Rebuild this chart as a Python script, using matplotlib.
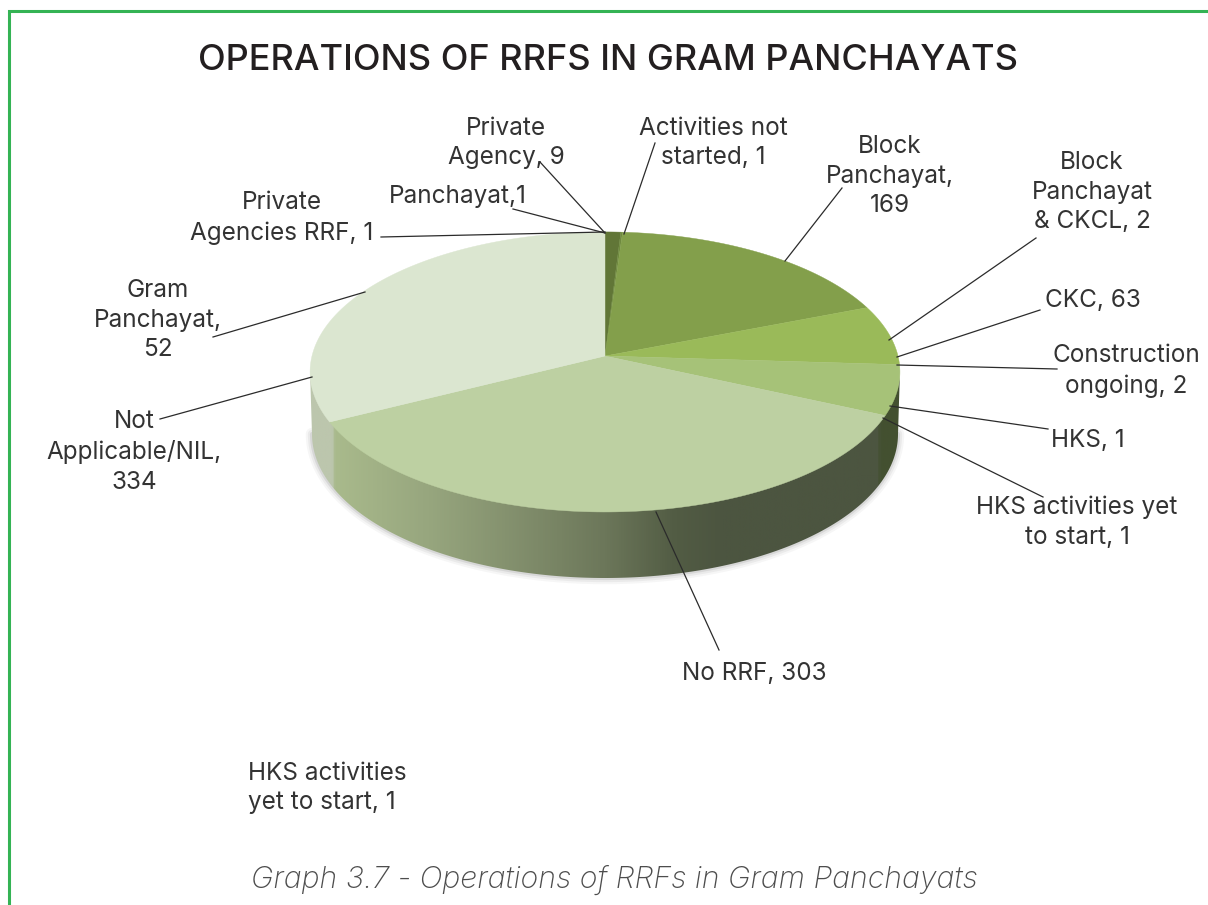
import numpy as np
import matplotlib
matplotlib.use("Agg")
import matplotlib.pyplot as plt
from matplotlib.colors import LinearSegmentedColormap
from matplotlib.patches import Polygon

plt.rcParams["font.family"] = ["Inter", "DejaVu Sans"]

TITLE = "OPERATIONS OF RRFS IN GRAM PANCHAYATS"
CAPTION = "Graph 3.7 - Operations of RRFs in Gram Panchayats"

# visible wedges clockwise from 12 o'clock (1-2 count slices fall in with a neighbour)
slice_values = [9, 1, 169, 65, 54, 336, 305]
slice_colors = ["#617637", "#6f8a3f", "#839f4b", "#9aba59", "#a6c278", "#bdd0a2", "#dbe6d0"]

label_texts = [
    "Private\nAgency, 9", "Activities not\nstarted, 1", "Block\nPanchayat,\n169",
    "Block\nPanchayat\n& CKCL, 2", "Panchayat,1", "Private\nAgencies RRF, 1",
    "CKC, 63", "Construction\nongoing, 2", "HKS, 1", "HKS activities yet\nto start, 1",
    "Gram\nPanchayat,\n52", "Not\nApplicable/NIL,\n334", "No RRF, 303",
]
label_x = [506, 713, 890, 1092, 458, 282, 1093, 1126, 1088, 1077, 158, 134, 754]
label_y = [143, 143, 176, 192, 196, 218, 300, 371, 440, 522, 320, 452, 673]

# leader lines (x0, y0, x1, y1)
leaders = [
    (540, 162, 605, 233), (655, 143, 624, 234), (842, 188, 785, 261),
    (1036, 238, 889, 340), (513, 209, 605, 233), (381, 237, 605, 232),
    (1040, 310, 897, 357), (1057, 369, 897, 365), (1048, 429, 890, 406),
    (1043, 497, 883, 418), (213, 337, 365, 292), (160, 419, 312, 377),
    (719, 650, 656, 512),
]

# pie geometry, perspective squeezes the far half
CX, CY = 605, 356
SX, SY, K = 293, 138.2, 0.114
BOT_CX, BOT_CY, BOT_RX, BOT_RY = 605, 434, 293, 144


def rim(theta):
    u, v = np.sin(theta), np.cos(theta)
    w = 1 + K * v
    return CX + SX * u / w, CY - SY * v / w


fig = plt.figure(figsize=(12.08, 9.05), dpi=100)
ax = fig.add_axes([0, 0, 1, 1])
ax.axis("off")

# side wall with left to right shading
low = np.linspace(-np.pi / 2, np.pi / 2, 300)
top_x = 605 + 295 * np.sin(low)
top_y = 370 + 140 * np.cos(low)
bot_x = BOT_CX + BOT_RX * np.sin(low)
bot_y = BOT_CY + BOT_RY * np.cos(low)
wall = np.column_stack([np.r_[top_x, bot_x[::-1]], np.r_[top_y, bot_y[::-1]]])

# soft shadow round the wall
for lw, a in [(9, 0.05), (6, 0.07), (3, 0.12)]:
    ax.plot(bot_x, bot_y, color="#555555", lw=lw, alpha=a, solid_capstyle="round", zorder=1)

stops = [(0.0, "#bcc6ad"), (0.035, "#bcc6ad"), (0.04, "#a9ba8c"), (0.2, "#97a67e"),
         (0.33, "#85926f"), (0.5, "#6c775a"), (0.62, "#525c44"), (0.7, "#4c5540"),
         (0.965, "#4c5540"), (0.97, "#435030"), (1.0, "#435030")]
cmap = LinearSegmentedColormap.from_list("wall", stops)
grad = np.linspace(0, 1, 600).reshape(1, -1)
im = ax.imshow(grad, cmap=cmap, extent=(310, 900, 590, 360), aspect="auto", zorder=2)
im.set_clip_path(Polygon(wall, transform=ax.transData))

# top of the pie
total = sum(slice_values)
edges = np.cumsum([0] + slice_values) / total * 2 * np.pi
for i, col in enumerate(slice_colors):
    th = np.linspace(edges[i], edges[i + 1], 120)
    x, y = rim(th)
    ax.fill(np.r_[CX, x], np.r_[CY, y], color=col, lw=0.3, zorder=3)

for x0, y0, x1, y1 in leaders:
    ax.plot([x0, x1], [y0, y1], color="#2b2b2b", lw=0.9, zorder=4)

for txt, x, y in zip(label_texts, label_x, label_y):
    ax.text(x, y, txt, ha="center", va="center", fontsize=17.5, color="#333333",
            linespacing=1.37, zorder=5)
ax.text(248, 788, "HKS activities\nyet to start, 1", ha="left", va="center", fontsize=17.5,
        color="#333333", linespacing=1.37)

ax.text(608, 60, TITLE, ha="center", va="center", fontsize=26, fontweight="medium", color="#231f20")
ax.text(614, 880, CAPTION, ha="center", va="center", fontsize=21.8, style="italic",
        fontweight="light", color="#4d4d4d")

# green frame, open at the bottom and right
ax.plot([8.5, 8.5, 1208], [905, 11, 11], color="#34b354", lw=2.2, solid_joinstyle="miter", zorder=6)

ax.set_xlim(0, 1208)
ax.set_ylim(905, 0)
fig.savefig("out.png", dpi=100)
